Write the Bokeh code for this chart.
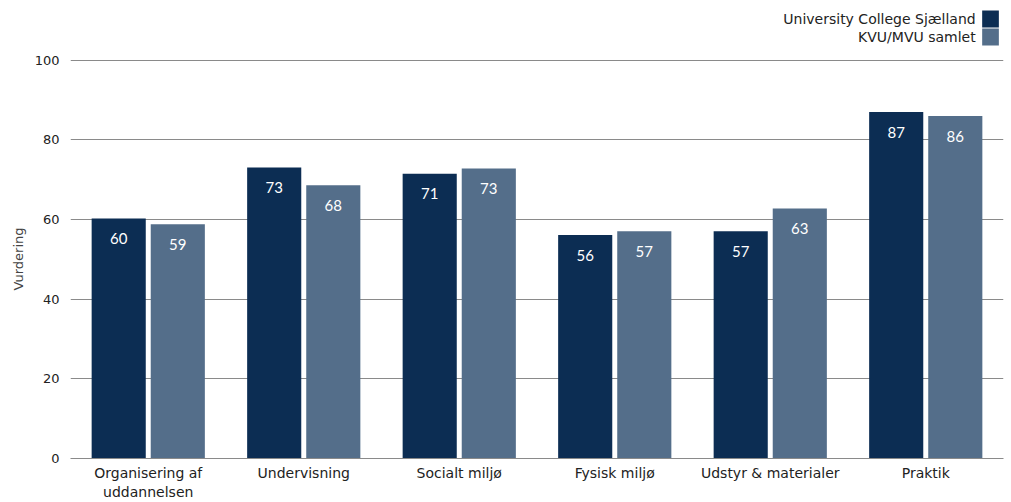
from bokeh.plotting import figure
from bokeh.layouts import column
from bokeh.models import ColumnDataSource, FactorRange, Range1d, LabelSet
from bokeh.transform import dodge
from bokeh.core.properties import value
from bokeh.embed import file_html
from bokeh.resources import INLINE

categories = ["Organisering af\nuddannelsen", "Undervisning", "Socialt miljø",
              "Fysisk miljø", "Udstyr & materialer", "Praktik"]
ucs_values = [60.3, 73.1, 71.5, 56.1, 57.1, 87.0]
kvu_values = [58.8, 68.6, 72.8, 57.1, 62.8, 86.0]
ucs_labels = ["60", "73", "71", "56", "57", "87"]
kvu_labels = ["59", "68", "73", "57", "63", "86"]
series_names = ["University College Sjælland", "KVU/MVU samlet"]
y_ticks = [0, 20, 40, 60, 80, 100]

DARK = "#0c2d53"
LIGHT = "#546e8a"
AXIS_FONT = "DejaVu Sans"
W = 1011

# ---- legend strip (top right, text to the left of the swatch) ----
leg = figure(width=W, height=51, x_range=Range1d(0, W - 5), y_range=Range1d(51, 0),
             output_backend="svg", toolbar_location=None, min_border=0,
             min_border_left=0, min_border_right=0, min_border_top=0, min_border_bottom=0)
leg.axis.visible = False
leg.grid.visible = False
leg.outline_line_color = None
leg_src = ColumnDataSource(dict(name=series_names, color=[DARK, LIGHT],
                                top=[10, 28], bottom=[27, 45], mid=[18.5, 36.5]))
leg.quad(left=983, right=1001, top="top", bottom="bottom", color="color",
         line_color=None, source=leg_src)
leg.text(x=976, y="mid", text="name", source=leg_src, text_align="right",
         text_baseline="middle", text_font=value(AXIS_FONT), text_font_size="14px",
         text_color="#222222")

# ---- main chart ----
src = ColumnDataSource(dict(cat=categories, ucs=ucs_values, kvu=kvu_values,
                            ucs_lbl=ucs_labels, kvu_lbl=kvu_labels))

p = figure(width=W, height=451, x_range=FactorRange(*categories),
           y_range=Range1d(0, 100.2), output_backend="svg", toolbar_location=None,
           min_border_left=70, min_border_right=8, min_border_top=8, min_border_bottom=34)
p.outline_line_color = None

p.vbar(x=dodge("cat", -0.19, range=p.x_range), top="ucs", width=0.348, source=src,
       color=DARK, line_color=None)
p.vbar(x=dodge("cat", 0.19, range=p.x_range), top="kvu", width=0.348, source=src,
       color=LIGHT, line_color=None)

for col, lbl, off in [("ucs", "ucs_lbl", -0.19), ("kvu", "kvu_lbl", 0.19)]:
    p.add_layout(LabelSet(x=dodge("cat", off, range=p.x_range), y=col, text=lbl, source=src,
                          y_offset=-20, text_align="center", text_baseline="middle",
                          text_color="white", text_font=value("Lato"), text_font_size="15px"))

p.xgrid.grid_line_color = None
p.ygrid.ticker = y_ticks
p.ygrid.grid_line_color = "#8a8a8a"
p.ygrid.grid_line_width = 1
p.yaxis.ticker = y_ticks
p.yaxis.axis_line_color = None
p.yaxis.major_tick_line_color = None
p.yaxis.minor_tick_line_color = None
p.yaxis.major_label_standoff = 5
p.yaxis.axis_label = "Vurdering"
p.yaxis.axis_label_standoff = 6
p.yaxis.axis_label_text_font_style = "normal"
p.yaxis.axis_label_text_font_size = "13px"
p.yaxis.axis_label_text_font = AXIS_FONT
p.yaxis.major_label_text_font = AXIS_FONT
p.yaxis.major_label_text_font_size = "13px"
p.yaxis.major_label_text_color = "#222222"

p.xaxis.axis_line_color = "#8a8a8a"
p.xaxis.major_tick_line_color = None
p.xaxis.minor_tick_line_color = None
p.xaxis.major_label_standoff = 0
p.xaxis.major_label_text_font = AXIS_FONT
p.xaxis.major_label_text_font_size = "14px"
p.xaxis.major_label_text_color = "#222222"

layout = column(leg, p, spacing=0)
open("out.html", "w").write(file_html(layout, INLINE))
